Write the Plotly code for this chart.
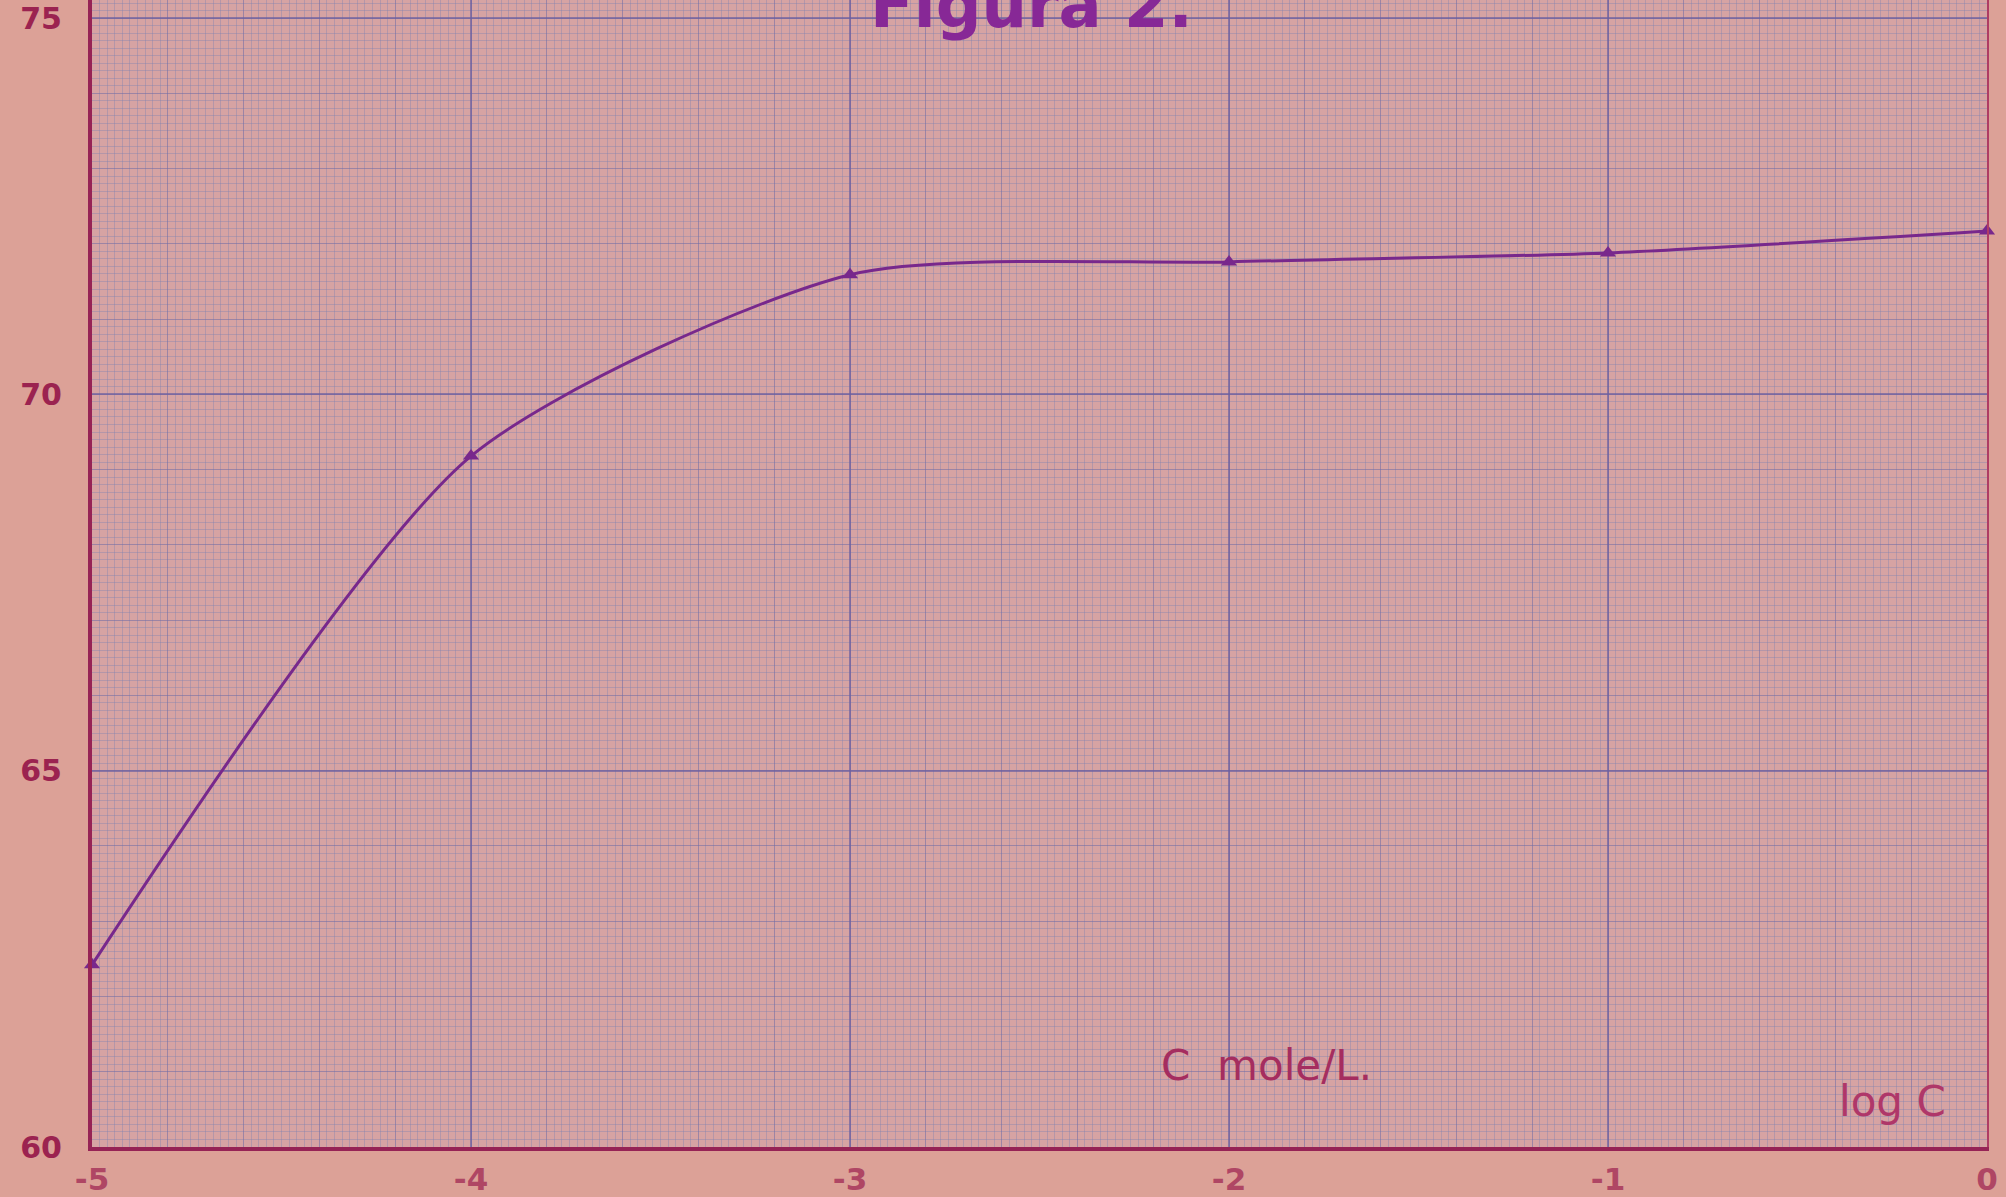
import plotly.graph_objects as go

# Data (log C vs value)
log_c = [-5, -4, -3, -2, -1, 0]
values = [62.42, 69.18, 71.59, 71.76, 71.88, 72.17]

x_tick_vals = [-5, -4, -3, -2, -1, 0]
x_tick_text = ["-5", "-4", "-3", "-2", "-1", "0"]
y_tick_vals = [60, 65, 70, 75]
y_tick_text = ["60", "65", "70", "75"]

X_RANGE = [-5, 0]
Y_RANGE = [60, 75.24]

PAPER = "rgb(220,161,151)"
PLOT_BG = "rgb(214,163,163)"
MM_GRID = "rgba(125,130,175,0.38)"
CM_GRID = "rgba(112,108,165,0.55)"
BIG_GRID = "rgba(108,95,160,0.70)"
AXIS_COL = "rgb(150,35,85)"
LINE_COL = "rgb(120,40,140)"
FONT = "DejaVu Sans"

fig = go.Figure()

# invisible trace to keep the base grid axes alive
fig.add_trace(go.Scatter(x=X_RANGE, y=Y_RANGE, mode="markers",
                         marker=dict(opacity=0), hoverinfo="skip",
                         showlegend=False, xaxis="x", yaxis="y"))

fig.add_trace(go.Scatter(
    x=log_c, y=values, mode="lines+markers",
    line=dict(color=LINE_COL, width=3, shape="spline", smoothing=0.7),
    marker=dict(symbol="triangle-up", size=14, color=LINE_COL),
    showlegend=False, xaxis="x2", yaxis="y2", cliponaxis=False,
))

fig.update_layout(
    width=2006, height=1197,
    margin=dict(l=92, r=19, t=0, b=48, pad=0),
    paper_bgcolor=PAPER,
    plot_bgcolor=PLOT_BG,
    showlegend=False,
    xaxis=dict(
        range=X_RANGE, dtick=0.2, tick0=0, showgrid=True, gridcolor=CM_GRID,
        gridwidth=1, zeroline=False, showticklabels=False, ticks="",
        showline=False,
        minor=dict(dtick=0.02, tick0=0, showgrid=True, gridcolor=MM_GRID, gridwidth=1),
    ),
    yaxis=dict(
        range=Y_RANGE, dtick=1, tick0=60, showgrid=True, gridcolor=CM_GRID,
        gridwidth=1, zeroline=False, showticklabels=False, ticks="",
        showline=True, linecolor="rgb(175,60,100)", linewidth=2, mirror=True,
        minor=dict(dtick=0.1, tick0=60, showgrid=True, gridcolor=MM_GRID, gridwidth=1),
    ),
    xaxis2=dict(
        overlaying="x", anchor="y2", side="bottom", range=X_RANGE,
        tickmode="array", tickvals=x_tick_vals, ticktext=x_tick_text,
        showgrid=True, gridcolor=BIG_GRID, gridwidth=1.5, zeroline=False,
        ticks="", ticklabelstandoff=2, ticklabeloverflow="allow",
        tickfont=dict(family=FONT, size=31, color="rgb(175,70,100)", weight="bold"),
        showline=True, linecolor=AXIS_COL, linewidth=4,
    ),
    yaxis2=dict(
        overlaying="y", anchor="x2", side="left", range=Y_RANGE,
        tickmode="array", tickvals=y_tick_vals, ticktext=y_tick_text,
        showgrid=True, gridcolor=BIG_GRID, gridwidth=1.5, zeroline=False,
        ticks="", ticklabelstandoff=20, ticklabeloverflow="allow",
        tickfont=dict(family=FONT, size=30, color="rgb(155,35,80)", weight="bold"),
        showline=True, linecolor=AXIS_COL, linewidth=4,
    ),
    annotations=[
        dict(text="Figura 2.", xref="x2", yref="paper", x=-2.52, y=0.962,
             xanchor="center", yanchor="bottom", showarrow=False,
             font=dict(family=FONT, size=64, color="rgb(135,40,150)", weight="bold")),
        dict(text="C  mole/L.", xref="x2", yref="y2", x=-1.90, y=61.08,
             xanchor="center", yanchor="middle", showarrow=False,
             font=dict(family=FONT, size=42, color="rgb(165,45,95)")),
        dict(text="log C", xref="x2", yref="y2", x=-0.25, y=60.6,
             xanchor="center", yanchor="middle", showarrow=False,
             font=dict(family=FONT, size=42, color="rgb(175,55,105)")),
    ],
)

fig.write_html("out.html", config={"displayModeBar": False},
               post_script="document.body.style.margin='0';document.body.style.overflow='hidden';")
